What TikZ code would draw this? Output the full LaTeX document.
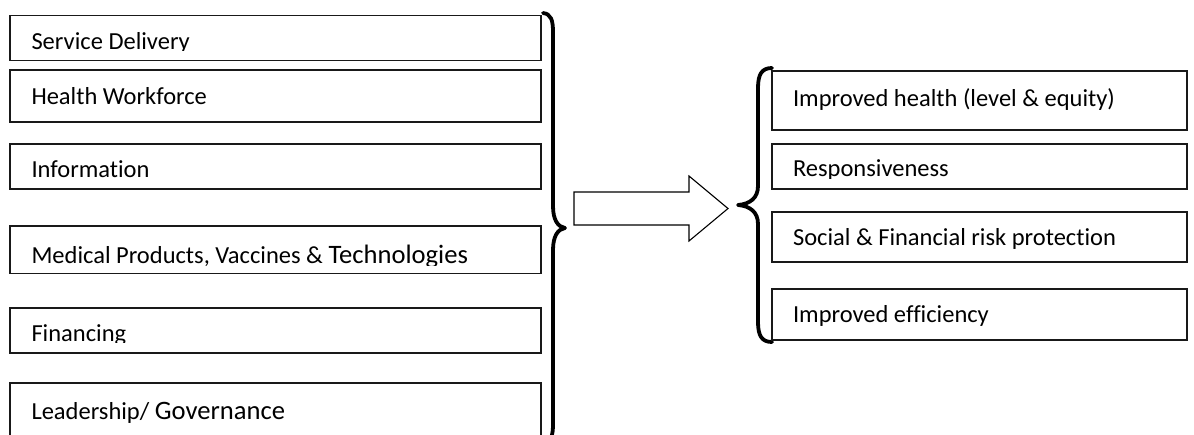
\documentclass[tikz,border=0pt]{standalone}
\usepackage{fontspec}
\setmainfont{Carlito}[Ligatures={NoCommon,NoContextual}]
\newcommand{\smtxt}{\fontsize{24.5}{29}\selectfont}
\newcommand{\bigtxt}{\fontsize{26.6}{31}\selectfont}
\tikzset{
  boxline/.style={draw=black!90, line width=1.6pt},
  lbl/.style={anchor=base west, inner sep=0pt, outer sep=0pt, font=\smtxt},
  brace/.style={draw=black, line width=3.8pt, line cap=round, line join=round},
  bigarrow/.style={draw=black, line width=1.1pt, fill=white, line join=miter},
}
\begin{document}
\begin{tikzpicture}[x=1pt,y=-1pt]
\useasboundingbox (0,0) rectangle (1194,434);
% left boxes
\foreach \n/\ya/\yb in {1/15.5/60.3, 2/70/121.7, 3/144/189, 4/226/273.5, 5/308/353} {
  \coordinate (L\n nw) at (10,\ya);
  \coordinate (L\n se) at (541,\yb);
}
\coordinate (L6nw) at (10,383);
\coordinate (L6se) at (541,450);
\foreach \n in {1,...,6} {
  \draw[boxline] (L\n nw) rectangle (L\n se);
}
% left texts (clipped as in the source)
\begin{scope}
  \clip (10,15) rectangle (541,50.5);
  \node[lbl] (t1) at (31.5,49.3) {Service Delivery};
\end{scope}
\node[lbl] (t2) at (31.5,104.3) {Health Workforce};
\node[lbl] (t3) at (31.5,177.3) {Information};
\begin{scope}
  \clip (10,226) rectangle (541,265);
  \node[lbl] (t4) at (31.5,263.3) {Medical Products, Vaccines \& {\bigtxt Technologies}};
\end{scope}
\begin{scope}
  \clip (10,308) rectangle (541,342.5);
  \node[lbl] (t5) at (31.5,341.7) {Financing};
\end{scope}
\node[lbl] (t6) at (31.5,419.3) {Leadership/ {\bigtxt Governance}};
% left brace
\coordinate (lbT) at (543,13);
\coordinate (lbM) at (565,228);
\coordinate (lbB) at (543,443);
\draw[brace] (lbT) .. controls (551,14) and (553,20) .. (553,32)
  -- (553,206) .. controls (553,220) and (558,227) .. (lbM)
  .. controls (558,229) and (553,236) .. (553,250)
  -- (553,424) .. controls (553,436) and (551,442) .. (lbB);
% arrow
\coordinate (aTail) at (574,208.5);
\coordinate (aTip) at (728,208.5);
\draw[bigarrow] (574,192) -- (689,192) -- (689,176) -- (aTip) -- (689,241) -- (689,225) -- (574,225) -- cycle;
% right brace
\coordinate (rbT) at (772,68);
\coordinate (rbM) at (738,205);
\coordinate (rbB) at (772,342);
\draw[brace] (rbT) .. controls (762,68) and (758,74) .. (758,88)
  -- (758,186) .. controls (758,198) and (750,204) .. (rbM)
  .. controls (750,206) and (758,212) .. (758,224)
  -- (758,322) .. controls (758,336) and (762,342) .. (rbB);
% right boxes
\foreach \n/\ya/\yb in {1/71/130, 2/144/189, 3/212/262, 4/289/340} {
  \draw[boxline] (772,\ya) rectangle (1187,\yb);
}
\node[lbl] (r1) at (793,106.5) {Improved health (level \& equity)};
\begin{scope}
  \clip (772,144) rectangle (1187,178.3);
  \node[lbl] (r2) at (793,176.7) {Responsiveness};
\end{scope}
\node[lbl] (r3) at (793,245) {Social \& Financial risk protection};
\node[lbl] (r4) at (793,322.7) {Improved efficiency};
\end{tikzpicture}
\end{document}
